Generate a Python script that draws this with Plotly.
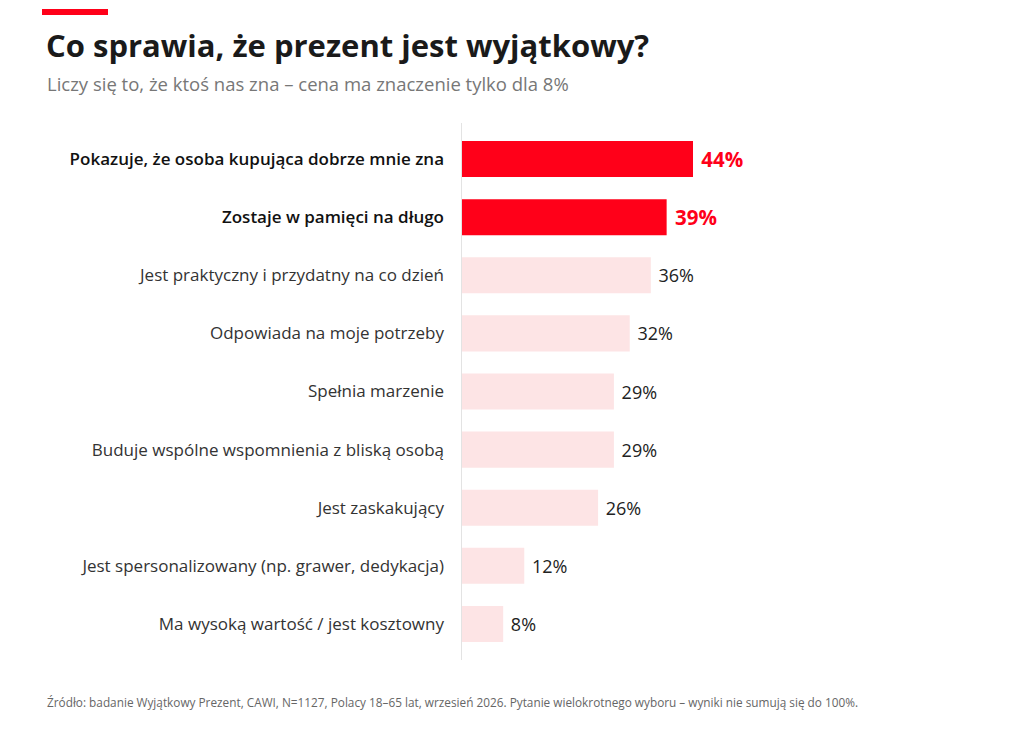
import plotly.graph_objects as go

categories = [
    "Pokazuje, że osoba kupująca dobrze mnie zna",
    "Zostaje w pamięci na długo",
    "Jest praktyczny i przydatny na co dzień",
    "Odpowiada na moje potrzeby",
    "Spełnia marzenie",
    "Buduje wspólne wspomnienia z bliską osobą",
    "Jest zaskakujący",
    "Jest spersonalizowany (np. grawer, dedykacja)",
    "Ma wysoką wartość / jest kosztowny",
]
values = [44, 39, 36, 32, 29, 29, 26, 12, 8]
highlight = [True, True, False, False, False, False, False, False, False]

title = "Co sprawia, że prezent jest wyjątkowy?"
subtitle = "Liczy się to, że ktoś nas zna – cena ma znaczenie tylko dla 8%"
source = ("Źródło: badanie Wyjątkowy Prezent, CAWI, N=1127, Polacy 18–65 lat, wrzesień 2026. "
          "Pytanie wielokrotnego wyboru – wyniki nie sumują się do 100%.")

RED = "#ff0019"
PINK = "#fde4e5"
FONT = "Open Sans"

bar_colors = [RED if h else PINK for h in highlight]
texts = [(f" <b>{v}%</b>" if h else f" {v}%") for v, h in zip(values, highlight)]
text_colors = [RED if h else "#222222" for h in highlight]
text_sizes = [20.5 if h else 18 for h in highlight]
ticktext = [(f"<span style='font-weight:600;color:#111111'>{c}</span>" if h else c)
            for c, h in zip(categories, highlight)]

fig = go.Figure(go.Bar(
    x=values, y=categories, orientation="h",
    marker=dict(color=bar_colors, line=dict(width=0)),
    text=texts, textposition="outside", cliponaxis=False,
    textfont=dict(color=text_colors, size=text_sizes, family=FONT),
    hoverinfo="skip",
))

# page body has an 8px offset
OFF = 8
W, H = 1024, 732
ml, mr, mt, mb = 461 - OFF, 40, 130 - OFF, 79 + OFF
PW = W - ml - mr
PH = H - mt - mb
px_per_pct = 232 / 44
xmax = PW / px_per_pct


def px(xs):
    return (xs - OFF - ml) / PW


def py(ys):
    return 1 - (ys - OFF - mt) / PH


fig.update_layout(
    width=W, height=H,
    margin=dict(l=ml, r=mr, t=mt, b=mb),
    paper_bgcolor="white", plot_bgcolor="white",
    bargap=0.38, showlegend=False,
    font=dict(family=FONT, color="#222222"),
    xaxis=dict(range=[0, xmax], visible=False, fixedrange=True),
    yaxis=dict(
        autorange="reversed", tickmode="array", tickvals=categories, ticktext=ticktext,
        tickfont=dict(size=17, color="#333333", family=FONT),
        ticks="", ticklabelstandoff=16, showgrid=False, zeroline=False,
        showline=False, fixedrange=True,
    ),
    shapes=[
        dict(type="rect", xref="paper", yref="paper", x0=px(42), x1=px(108),
             y0=py(15), y1=py(9), fillcolor=RED, line=dict(width=0)),
        dict(type="line", xref="x", yref="paper", x0=0, x1=0,
             y0=py(660), y1=py(123),
             line=dict(color="#e3e3e3", width=2)),
    ],
    annotations=[
        dict(text=f"<b>{title}</b>", xref="paper", yref="paper", showarrow=False,
             x=px(44), xanchor="left", y=py(45), yanchor="middle",
             font=dict(size=31, color="#1a1a1a", family=FONT)),
        dict(text=subtitle, xref="paper", yref="paper", showarrow=False,
             x=px(45), xanchor="left", y=py(84), yanchor="middle",
             font=dict(size=18.5, color="#777777", family=FONT)),
        dict(text=source, xref="paper", yref="paper", showarrow=False,
             x=px(45), xanchor="left", y=py(702), yanchor="middle",
             font=dict(size=11.8, color="#666666", family=FONT)),
    ],
)

fig.write_html("out.html")
